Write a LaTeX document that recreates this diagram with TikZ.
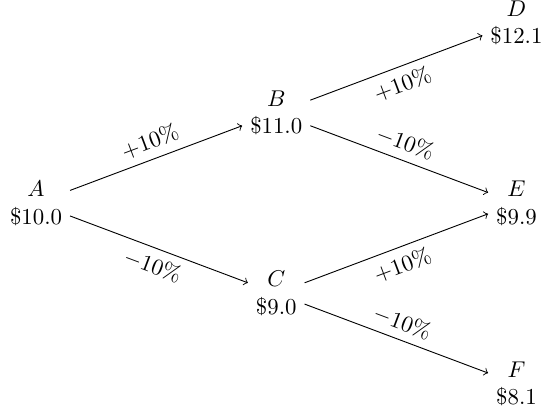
\documentclass[tikz,border=0pt]{standalone}
\usepackage{amsmath,amssymb}
\usetikzlibrary{positioning}

\begin{document}
\begin{tikzpicture}[node distance=1.39cm and 3.7cm,on grid]
\useasboundingbox (0,0) rectangle (8.41,6.39);
\tikzset{price/.style={align=center},move/.style={->}}
\node[price] (a) at (0.555,3.26) {$A$\\\$10.0};
\node[price,above right=of a] (b) {$B$\\\$11.0};
\node[price,below right=of a] (c) {$C$\\\$9.0};
\node[price,above right=of b] (d) {$D$\\\$12.1};
\node[price,below right=of b] (e) {$E$\\\$9.9};
\node[price,below right=of c] (f) {$F$\\\$8.1};
\draw[move] (a) -- node[sloped,above] {$+10\%$} (b);
\draw[move] (a) -- node[sloped,below] {$-10\%$} (c);
\draw[move] (b) -- node[sloped,below] {$+10\%$} (d);
\draw[move] (b) -- node[sloped,above] {$-10\%$} (e);
\draw[move] (c) -- node[sloped,below] {$+10\%$} (e);
\draw[move] (c) -- node[sloped,above] {$-10\%$} (f);
\end{tikzpicture}
\end{document}
